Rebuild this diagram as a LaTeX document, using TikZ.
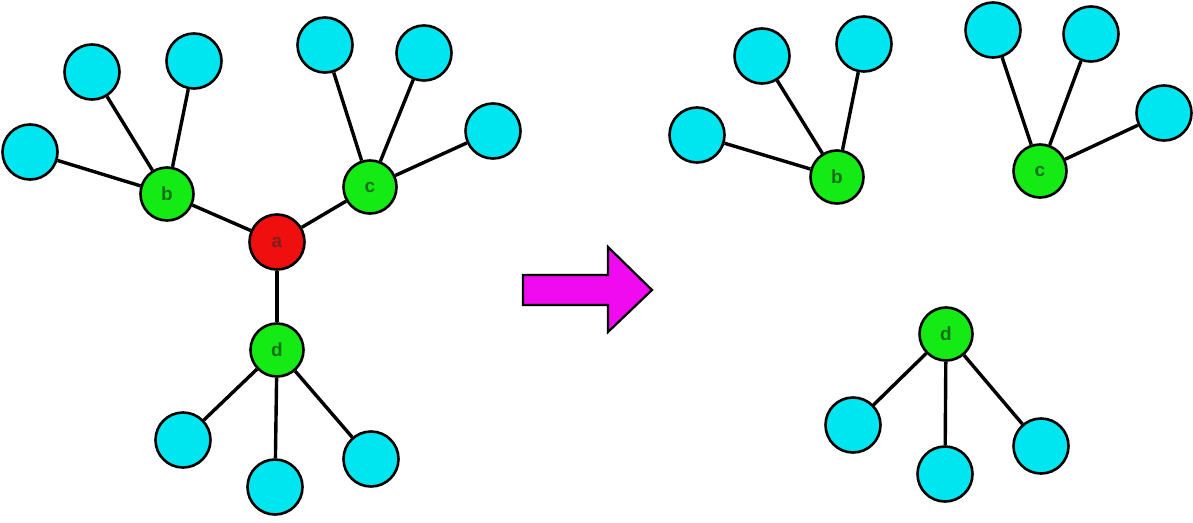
\documentclass[tikz,border=0pt]{standalone}
\usepackage{fontspec}
\setmainfont{Liberation Sans}
\begin{document}
\begin{tikzpicture}[x=1pt,y=-1pt,
  leaf/.style={circle,draw=black,line width=2.6pt,fill=cyanfill,minimum size=55pt,inner sep=0pt},
  inner/.style={circle,draw=black,line width=2.6pt,fill=greenfill,minimum size=53pt,inner sep=0pt,font=\bfseries\fontsize{19}{19}\selectfont,text=greentext},
  root/.style={circle,draw=black,line width=2.6pt,fill=redfill,minimum size=55pt,inner sep=0pt,font=\bfseries\fontsize{19}{19}\selectfont,text=redtext},
  edge/.style={line width=3.4pt,black}]
\definecolor{cyanfill}{RGB}{0,230,240}
\definecolor{greenfill}{RGB}{20,235,20}
\definecolor{greentext}{RGB}{25,110,25}
\definecolor{redfill}{RGB}{240,15,15}
\definecolor{redtext}{RGB}{130,30,30}
\definecolor{arrowfill}{RGB}{240,10,240}
\useasboundingbox (0,0) rectangle (1193,522);
% left graph
\node[root] (a) at (277,242) {a};
\node[inner] (b) at (167,194) {b};
\node[inner] (c) at (370,187) {c};
\node[inner] (d) at (277,350) {d};
\node[leaf] (b1) at (30,152) {};
\node[leaf] (b2) at (92,72) {};
\node[leaf] (b3) at (194,61) {};
\node[leaf] (c1) at (325,45) {};
\node[leaf] (c2) at (424,53) {};
\node[leaf] (c3) at (493,131) {};
\node[leaf] (d1) at (183,440) {};
\node[leaf] (d2) at (275,487) {};
\node[leaf] (d3) at (371,459) {};
\draw[edge] (a) -- (b);
\draw[edge] (a) -- (c);
\draw[edge] (a) -- (d);
\foreach \l in {b1,b2,b3} \draw[edge] (b) -- (\l);
\foreach \l in {c1,c2,c3} \draw[edge] (c) -- (\l);
\foreach \l in {d1,d2,d3} \draw[edge] (d) -- (\l);
% right graph
\node[inner] (rb) at (837,177) {b};
\node[inner] (rc) at (1040,171) {c};
\node[inner] (rd) at (946,334) {d};
\node[leaf] (rb1) at (697,135) {};
\node[leaf] (rb2) at (762,56) {};
\node[leaf] (rb3) at (864,44) {};
\node[leaf] (rc1) at (993,30) {};
\node[leaf] (rc2) at (1091,34) {};
\node[leaf] (rc3) at (1164,113) {};
\node[leaf] (rd1) at (853,425) {};
\node[leaf] (rd2) at (945,474) {};
\node[leaf] (rd3) at (1041,446) {};
\foreach \l in {rb1,rb2,rb3} \draw[edge] (rb) -- (\l);
\foreach \l in {rc1,rc2,rc3} \draw[edge] (rc) -- (\l);
\foreach \l in {rd1,rd2,rd3} \draw[edge] (rd) -- (\l);
% big arrow
\draw[line width=2.2pt,fill=arrowfill,line join=miter] (523,275) -- (608,275) -- (608,247) -- (652,290) -- (608,332) -- (608,305) -- (523,305) -- cycle;
\end{tikzpicture}
\end{document}
